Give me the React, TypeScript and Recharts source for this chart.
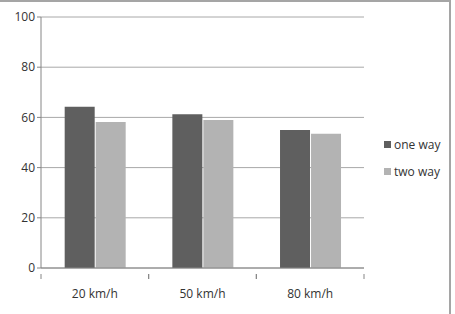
import React from "react";
import { BarChart, Bar, XAxis, YAxis, CartesianGrid } from "recharts";

const categories = ["20 km/h", "50 km/h", "80 km/h"];
const oneWay = [64.2, 61.3, 55.0];
const twoWay = [58.2, 59.0, 53.5];
const yTicks = [0, 20, 40, 60, 80, 100];

const seriesNames = ["one way", "two way"];
const colors = ["#5f5f5f", "#b3b3b3"];

const data = categories.map((c, i) => ({ name: c, oneWay: oneWay[i], twoWay: twoWay[i] }));

const FONT = "'Open Sans', 'Noto Sans', sans-serif";

const XTick = (props: any) => {
  const { x, y, payload } = props;
  const half = payload && payload.offset ? payload.offset : 53.8;
  return (
    <g>
      <line x1={x - half} x2={x - half} y1={y - 2} y2={y + 3} stroke="#868686" />
      <line x1={x + half} x2={x + half} y1={y - 2} y2={y + 3} stroke="#868686" />
      <text x={x} y={y + 22} textAnchor="middle" fontSize={12} fill="#333" fontFamily={FONT}>
        {payload.value}
      </text>
    </g>
  );
};

export default function App() {
  return (
    <div style={{ position: "absolute", left: 0, top: 0, width: 455, height: 314, background: "#fff" }}>
      <div style={{ position: "absolute", left: 0, top: 0, width: 451, height: 314, borderTop: "2px solid #a5a5a5", borderRight: "2px solid #a5a5a5", boxSizing: "border-box" }} />
      <BarChart
        width={455}
        height={314}
        data={data}
        margin={{ top: 17, right: 91, bottom: 0, left: 0 }}
        barCategoryGap="22%"
        barGap={1}
      >
        <CartesianGrid horizontal={true} vertical={false} stroke="#a8a8a8" />
        <XAxis
          dataKey="name"
          height={46}
          axisLine={{ stroke: "#868686" }}
          tickLine={false}
          tick={<XTick />}
          interval={0}
        />
        <YAxis
          width={41}
          domain={[0, 100]}
          ticks={yTicks}
          axisLine={{ stroke: "#868686" }}
          tickLine={{ stroke: "#868686" }}
          tickSize={4}
          tick={{ fontSize: 12, fill: "#333", fontFamily: FONT }}
        />
        <Bar dataKey="oneWay" name={seriesNames[0]} fill={colors[0]} isAnimationActive={false} />
        <Bar dataKey="twoWay" name={seriesNames[1]} fill={colors[1]} isAnimationActive={false} />
      </BarChart>
      <div style={{ position: "absolute", left: 384, top: 131, fontFamily: FONT, fontSize: 12, color: "#333" }}>
        {seriesNames.map((n, i) => (
          <div key={n} style={{ display: "flex", alignItems: "center", height: 27 }}>
            <span style={{ display: "inline-block", width: 7, height: 7, background: colors[i], marginRight: 3 }} />
            <span>{n}</span>
          </div>
        ))}
      </div>
    </div>
  );
}
